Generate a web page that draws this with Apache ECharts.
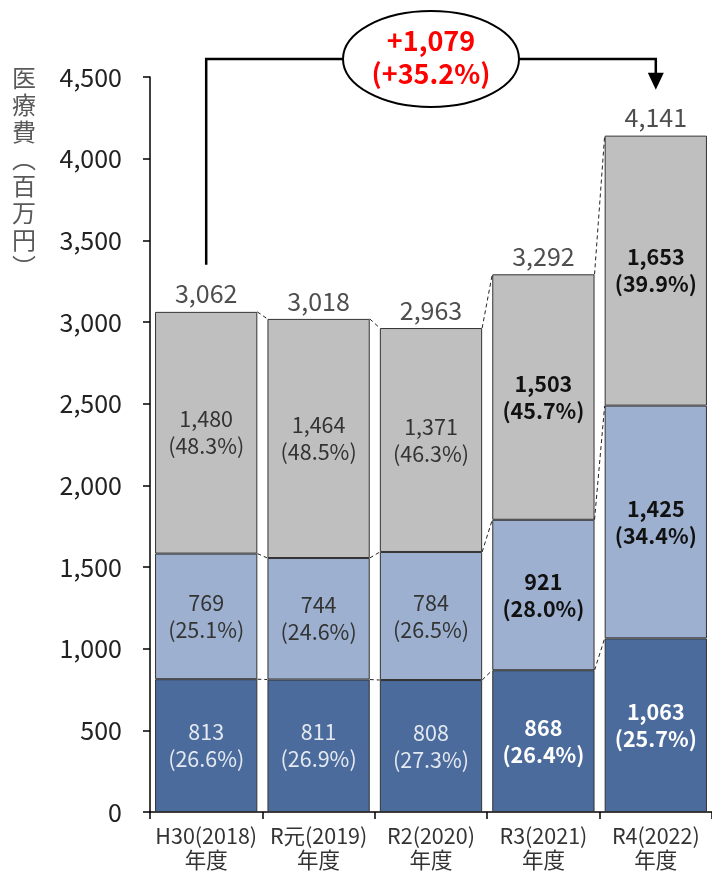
<!DOCTYPE html>
<html>
<head>
<meta charset="utf-8">
<script src="https://cdn.jsdelivr.net/npm/echarts@6/dist/echarts.min.js"></script>
<style>
html, body { margin: 0; padding: 0; background: #fff; }
#main { width: 712px; height: 874px; }
</style>
</head>
<body>
<div id="main"></div>
<script>
var categories = ['H30(2018)\n年度', 'R元(2019)\n年度', 'R2(2020)\n年度', 'R3(2021)\n年度', 'R4(2022)\n年度'];
var bottomValues = [813, 811, 808, 868, 1063];
var bottomPct = [26.6, 26.9, 27.3, 26.4, 25.7];
var middleValues = [769, 744, 784, 921, 1425];
var middlePct = [25.1, 24.6, 26.5, 28.0, 34.4];
var topValues = [1480, 1464, 1371, 1503, 1653];
var topPct = [48.3, 48.5, 46.3, 45.7, 39.9];
var totals = [3062, 3018, 2963, 3292, 4141];
var yMin = 0, yMax = 4500, yInterval = 500;
var yName = '医療費（百万円）';

var FONT = '"Noto Sans CJK JP", "Noto Sans", sans-serif';
var BAR_RATIO = 0.91;

function fmt(v) { return v.toLocaleString('en-US'); }

// 段ごとのデータ（R3, R4 は太字）
function segData(vals, pct, lightText) {
  return vals.map(function (v, i) {
    var bold = i >= 3;
    return {
      value: v,
      pct: pct[i],
      label: {
        fontWeight: bold ? 'bold' : 'normal',
        color: lightText ? (bold ? '#ffffff' : '#e4e9f1') : (bold ? '#111' : '#333')
      }
    };
  });
}

function segLabel(p) {
  return fmt(p.value) + '\n(' + p.data.pct.toFixed(1) + '%)';
}

// 段の境界（累積値）
var cum1 = bottomValues.slice();
var cum2 = bottomValues.map(function (v, i) { return v + middleValues[i]; });
var cum3 = cum2.map(function (v, i) { return v + topValues[i]; });
var connectorData = [];
[cum1, cum2, cum3].forEach(function (lv) {
  for (var i = 0; i < lv.length - 1; i++) connectorData.push([i, lv[i], i + 1, lv[i + 1]]);
});

var diff = totals[totals.length - 1] - totals[0];
var diffPct = (diff / totals[0] * 100).toFixed(1);

var chart = echarts.init(document.getElementById('main'));
chart.setOption({
  animation: false,
  textStyle: { fontFamily: FONT },
  grid: { left: 150, top: 77, width: 563, height: 735 },
  graphic: [{
    type: 'text',
    left: 12,
    top: 64,
    style: {
      text: yName.replace('（', '︵').replace('）', '︶').split('').join('\n'),
      font: '24px ' + FONT,
      fill: '#595959',
      lineHeight: 27,
      textAlign: 'center'
    }
  }],
  xAxis: {
    type: 'category',
    data: categories,
    axisLine: { lineStyle: { color: '#000', width: 1.5 } },
    axisTick: { show: true, length: 7, lineStyle: { color: '#000', width: 1.5 } },
    axisLabel: { color: '#333', fontSize: 21.5, lineHeight: 24, margin: 12, interval: 0 }
  },
  yAxis: {
    type: 'value',
    min: yMin,
    max: yMax,
    interval: yInterval,
    axisLine: { show: true, lineStyle: { color: '#000', width: 1.5 } },
    axisTick: { show: true, length: 7, lineStyle: { color: '#000', width: 1.5 } },
    splitLine: { show: false },
    axisLabel: { color: '#222', fontSize: 25, margin: 28, formatter: function (v) { return fmt(v); } }
  },
  series: [
    {
      name: 'bottom', type: 'bar', stack: 'a', barCategoryGap: '9%',
      itemStyle: { color: '#4a6b9b', borderColor: '#333', borderWidth: 1 },
      label: { show: true, position: 'inside', fontSize: 21.5, lineHeight: 27, formatter: segLabel },
      data: segData(bottomValues, bottomPct, true)
    },
    {
      name: 'middle', type: 'bar', stack: 'a',
      itemStyle: { color: '#9db0cf', borderColor: '#333', borderWidth: 1 },
      label: { show: true, position: 'inside', fontSize: 21.5, lineHeight: 27, formatter: segLabel },
      data: segData(middleValues, middlePct, false)
    },
    {
      name: 'top', type: 'bar', stack: 'a',
      itemStyle: { color: '#bfbfbf', borderColor: '#333', borderWidth: 1 },
      label: { show: true, position: 'inside', fontSize: 21.5, lineHeight: 27, formatter: segLabel },
      data: segData(topValues, topPct, false)
    },
    {
      name: 'total', type: 'scatter', symbolSize: 1,
      itemStyle: { color: 'rgba(0,0,0,0)' },
      label: {
        show: true, position: 'top', distance: 5, fontSize: 25, color: '#222',
        formatter: function (p) { return fmt(p.value); }
      },
      data: totals,
      z: 5
    },
    {
      // 段の間の破線
      name: 'connector', type: 'custom', silent: true,
      encode: { x: 0, y: 1 },
      renderItem: function (params, api) {
        var a = api.coord([api.value(0), api.value(1)]);
        var b = api.coord([api.value(2), api.value(3)]);
        var hw = api.size([1, 0])[0] * BAR_RATIO / 2;
        return {
          type: 'line',
          shape: { x1: a[0] + hw, y1: a[1], x2: b[0] - hw, y2: b[1] },
          style: { stroke: '#222', lineWidth: 1, lineDash: [4, 3] }
        };
      },
      data: connectorData,
      z: 4
    },
    {
      // 増加額の注記
      name: 'annotation', type: 'custom', silent: true,
      encode: { x: 0, y: 1 },
      renderItem: function (params, api) {
        var p0 = api.coord([api.value(0), api.value(1)]);
        var p1 = api.coord([api.value(2), api.value(3)]);
        var yLine = params.coordSys.y - 18;
        var tip = p1[1] - 46;
        var cx = (p0[0] + p1[0]) / 2;
        return {
          type: 'group',
          children: [
            {
              type: 'polyline',
              shape: { points: [[p0[0], p0[1] - 47], [p0[0], yLine], [p1[0], yLine], [p1[0], tip - 15]] },
              style: { stroke: '#000', lineWidth: 2.5, fill: null }
            },
            {
              type: 'polygon',
              shape: { points: [[p1[0] - 8, tip - 17], [p1[0] + 8, tip - 17], [p1[0], tip]] },
              style: { fill: '#000' }
            },
            {
              type: 'ellipse',
              shape: { cx: cx, cy: yLine, rx: 88, ry: 48 },
              style: { fill: '#fff', stroke: '#000', lineWidth: 2 }
            },
            {
              type: 'text',
              x: cx, y: yLine - 2,
              style: {
                text: '+' + fmt(diff) + '\n(+' + diffPct + '%)',
                font: 'bold 27px ' + FONT,
                fill: '#ff0000',
                lineHeight: 33,
                align: 'center',
                verticalAlign: 'middle'
              }
            }
          ]
        };
      },
      data: [[0, totals[0], totals.length - 1, totals[totals.length - 1]]],
      z: 6
    }
  ]
});
</script>
</body>
</html>
